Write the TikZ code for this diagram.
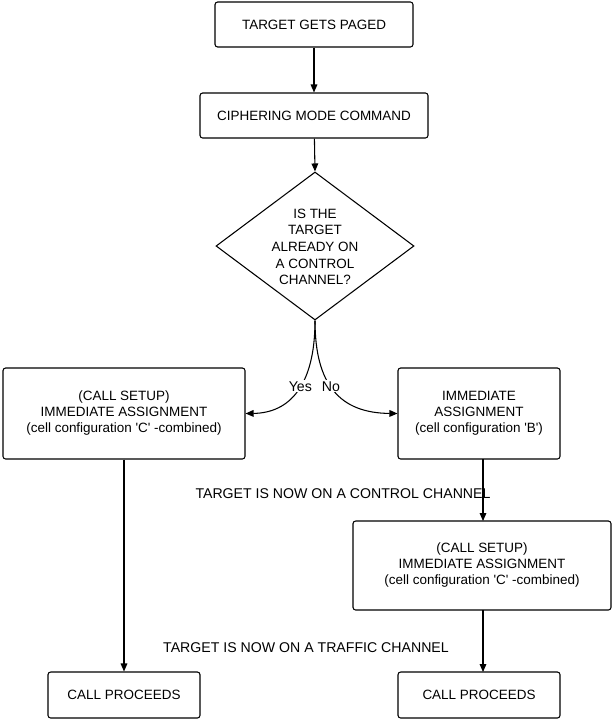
\documentclass[tikz,border=0pt]{standalone}
\usepackage{fontspec}
\setmainfont{Liberation Sans}
\usetikzlibrary{shapes.geometric,arrows.meta}
\newcommand{\sq}{\textquotesingle}
\begin{document}
\begin{tikzpicture}[x=0.75pt,y=-0.75pt,
  box/.style={draw,thick,rounded corners=2pt,align=center,font=\fontsize{10.1pt}{12pt}\selectfont,inner sep=0pt},
  arr/.style={thick,-{Triangle[length=6pt,width=5pt]}},
  lbl/.style={font=\fontsize{10.6pt}{12pt}\selectfont}]
\useasboundingbox (0,0) rectangle (614,721);
\node[box,minimum width=198*0.75pt,minimum height=45*0.75pt] (a) at (314,24.5) {TARGET GETS PAGED};
\node[box,minimum width=228*0.75pt,minimum height=45*0.75pt] (b) at (314,115.5) {CIPHERING MODE COMMAND};
\node[draw,thick,diamond,aspect=1.34,minimum width=198*0.75pt,minimum height=148*0.75pt,inner sep=0pt] (d) at (315,246) {};
\node[align=center,font=\fontsize{10.1pt}{12.5pt}\selectfont] (dt) at (315,247) {IS THE\\TARGET\\ALREADY ON\\A CONTROL\\CHANNEL?};
\node[box,minimum width=242*0.75pt,minimum height=91*0.75pt] (l) at (124,413.5) {(CALL SETUP)\\IMMEDIATE ASSIGNMENT\\(cell configuration \sq C\sq\ -combined)};
\node[box,minimum width=162*0.75pt,minimum height=91*0.75pt] (r) at (479,413.5) {IMMEDIATE\\ASSIGNMENT\\(cell configuration \sq B\sq)};
\node[box,minimum width=258*0.75pt,minimum height=89*0.75pt] (r2) at (482,565.5) {(CALL SETUP)\\IMMEDIATE ASSIGNMENT\\(cell configuration \sq C\sq\ -combined)};
\node[box,minimum width=152*0.75pt,minimum height=46*0.75pt] (cl) at (124,695) {CALL PROCEEDS};
\node[box,minimum width=162*0.75pt,minimum height=46*0.75pt] (cr) at (479,695) {CALL PROCEEDS};
\draw[arr] (a) -- (b);
\draw[arr] (b) -- (d.north);
\draw[arr] (d.south) .. controls (315,385) and (290,413) .. (l.east) node[pos=0.45,lbl,fill=white,inner sep=1pt] {Yes};
\draw[arr] (d.south) .. controls (315,385) and (340,413) .. (r.west) node[pos=0.45,lbl,fill=white,inner sep=1pt] {No};
\draw[arr] (l.south) -- (cl.north);
\draw[arr] (483,459) -- (483,521);
\draw[arr] (483,610) -- (483,672);
\node[lbl] (t1) at (343,494) {TARGET IS NOW ON A CONTROL CHANNEL};
\node[lbl] (t2) at (306,648) {TARGET IS NOW ON A TRAFFIC CHANNEL};
\end{tikzpicture}
\end{document}
